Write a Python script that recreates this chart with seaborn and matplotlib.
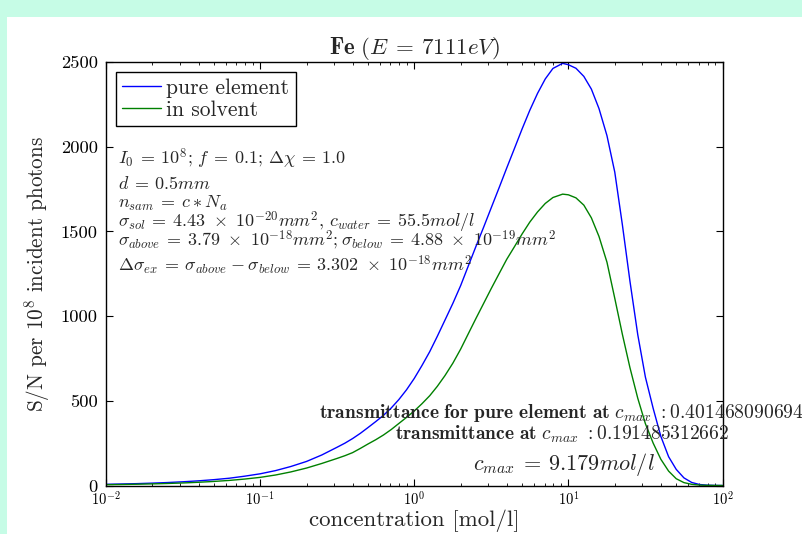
import matplotlib
matplotlib.use('Agg')
import matplotlib.pyplot as plt
from matplotlib.patches import Rectangle
import seaborn as sns
import pandas as pd

# concentration grid [mol/l]
conc = [0.01, 0.0126, 0.0158, 0.02, 0.0251, 0.0316, 0.0398, 0.0501, 0.0631, 0.0794,
        0.1, 0.126, 0.158, 0.2, 0.251, 0.316,
        0.355, 0.398, 0.447, 0.501, 0.562, 0.631, 0.708, 0.794, 0.891, 1.0,
        1.12, 1.26, 1.41, 1.58, 1.78, 2.0, 2.24, 2.51, 2.82, 3.16,
        3.55, 3.98, 4.47, 5.01, 5.62, 6.31, 7.08, 7.94,
        9.18,
        10.0, 11.2, 12.6, 14.1, 15.8, 17.8, 20.0, 22.4, 25.1, 28.2, 31.6,
        35.5, 39.8, 44.7, 50.1, 56.2, 63.1, 70.8, 79.4, 89.1, 100.0]

# S/N per 1e8 incident photons
sn_pure = [7, 9, 11, 14, 17.5, 22, 27.5, 34.5, 43, 55,
           69, 88, 112, 142, 180, 226,
           250, 277, 308, 342, 377, 414, 457, 507, 565, 632,
           707, 790, 880, 975, 1075, 1180, 1295, 1410, 1525, 1640,
           1757, 1874, 1990, 2105, 2215, 2315, 2400, 2462,
           2492,
           2484, 2463, 2415, 2340, 2225, 2065, 1850, 1540, 1205, 890, 640,
           455, 290, 170, 95, 45, 18, 6, 2, 0.5, 0]
sn_solvent = [5, 6, 7.5, 9.5, 12, 15, 19, 24, 30, 38,
              48, 62, 80, 103, 130, 160,
              176, 194, 219, 245, 270, 298, 330, 366, 402, 440,
              482, 530, 585, 648, 722, 805, 895, 985, 1075, 1163,
              1250, 1335, 1410, 1485, 1555, 1615, 1665, 1700,
              1720,
              1716, 1698, 1655, 1580, 1470, 1318, 1105, 893, 695, 515, 365,
              250, 155, 85, 40, 17, 7, 2.5, 1, 0.3, 0]

series_names = ['pure element', 'in solvent']
line_colors = ['#0000ff', '#008000']

info_lines = [
    r'$I_0\:=\:10^8;\,f\:=\:0.1;\,\Delta\chi\:=\:1.0$',
    r'$d\:=\:0.5mm$',
    r'$n_{sam}\:=\:c\:*\:N_a$',
    r'$\sigma_{sol}\:=\:4.43\ \times\ 10^{-20}mm^2$, $c_{water}\:=\:55.5mol/l$',
    r'$\sigma_{above}\:=\:3.79\ \times\ 10^{-18}mm^2;\sigma_{below}\:=\:4.88\ \times\ 10^{-19}mm^2$',
    r'$\Delta\sigma_{ex}\:=\:\sigma_{above}\:-\:\sigma_{below}\:=\:3.302\ \times\ 10^{-18}mm^2$',
]
trans_pure = '0.401468090694'
trans_solv = '0.191485312662'
c_max = '9.179'

df = pd.DataFrame({
    'conc': conc * 2,
    'sn': sn_pure + sn_solvent,
    'series': [series_names[0]] * len(conc) + [series_names[1]] * len(conc),
})

sns.set_style('ticks')
plt.rcParams.update({
    'font.family': 'serif',
    'font.serif': ['cmr10'],
    'mathtext.fontset': 'cm',
    'axes.unicode_minus': False,
    'axes.formatter.use_mathtext': False,
    'axes.edgecolor': 'black',
    'axes.linewidth': 1.0,
    'xtick.direction': 'in',
    'ytick.direction': 'in',
    'xtick.top': True,
    'ytick.right': True,
    'xtick.color': 'black',
    'ytick.color': 'black',
    'xtick.major.size': 5,
    'ytick.major.size': 5,
    'xtick.minor.size': 2.5,
    'ytick.minor.size': 2.5,
})

W, H = 802, 534
fig = plt.figure(figsize=(W / 100, H / 100), dpi=100, facecolor='#c6fce6')
fig.add_artist(Rectangle((7 / W, 0), 1, (H - 17) / H, transform=fig.transFigure,
                         facecolor='white', edgecolor='none', zorder=-1))
ax = fig.add_axes([106 / W, 1 - 485.5 / H, (722.5 - 106) / W, (485.5 - 62) / H])

sns.lineplot(data=df, x='conc', y='sn', hue='series', hue_order=series_names,
             palette=dict(zip(series_names, line_colors)), estimator=None,
             sort=False, linewidth=1.0, ax=ax)

ax.set_xscale('log')
ax.set_xlim(1e-2, 1e2)
ax.set_ylim(0, 2500)
ax.set_yticks([0, 500, 1000, 1500, 2000, 2500])
ax.tick_params(axis='x', which='major', labelsize=10.5, pad=4)
ax.tick_params(axis='y', which='major', labelsize=13.3, pad=6)
ax.tick_params(axis='x', which='minor', top=True)

ax.set_title(r'$\mathbf{Fe}\ (E\:=\:7111eV)$', fontsize=16.5, pad=6)
ax.set_xlabel('concentration [mol/l]', fontsize=16.5, labelpad=0)
ax.set_ylabel(r'S/N per $10^8$ incident photons', fontsize=15.3, labelpad=6)

handles, labels = ax.get_legend_handles_labels()
leg = ax.legend(handles, labels, loc='upper left', fontsize=15.5, frameon=True,
                fancybox=False, edgecolor='black', framealpha=1,
                handlelength=1.8, handletextpad=0.25, labelspacing=0.12,
                borderpad=0.3, borderaxespad=0.45)
leg.get_frame().set_linewidth(1.0)


def fig_text(px, py, s, **kw):
    fig.text(px / W, 1 - py / H, s, va='baseline', **kw)


baselines = [164, 189, 208, 227, 246, 271]
for line, yb in zip(info_lines, baselines):
    fig_text(118, yb, line, fontsize=13)

fig_text(319, 418, r'$\mathbf{transmittance\ for\ pure\ element\ at}\ c_{max}\ :' + trans_pure + '$',
         fontsize=14.1)
fig_text(395, 440, r'$\mathbf{transmittance\ at}\ c_{max}\ :' + trans_solv + '$', fontsize=14)
fig_text(473, 470, r'$c_{max}\:=\:' + c_max + r'mol/l$', fontsize=16)

fig.savefig('out.png', dpi=100, facecolor=fig.get_facecolor())
